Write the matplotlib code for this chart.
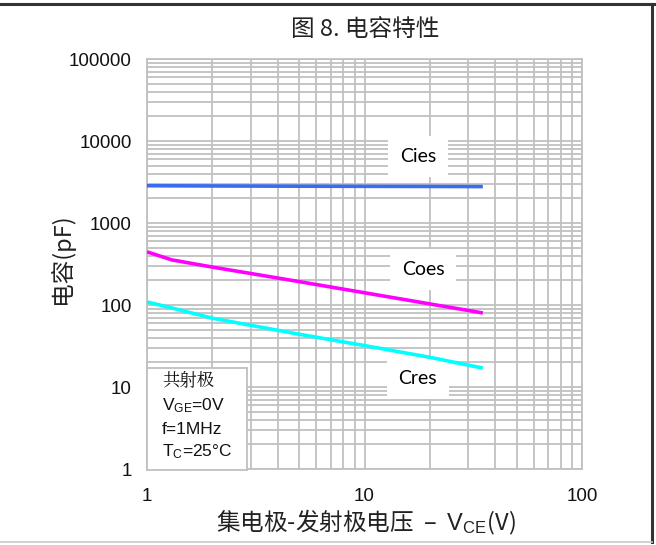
import matplotlib
matplotlib.use("Agg")
import matplotlib.pyplot as plt
from matplotlib.ticker import LogLocator, FixedLocator, FixedFormatter, NullFormatter
from matplotlib.lines import Line2D

plt.rcParams['font.family'] = ['Liberation Sans', 'Noto Sans CJK SC', 'DejaVu Sans']
plt.rcParams['mathtext.fontset'] = 'custom'
plt.rcParams['mathtext.rm'] = 'Liberation Sans'

# Collector-emitter voltage (V) and capacitances (pF)
vce = [1, 1.3, 2, 5, 10, 20, 35]
cies = [2850, 2840, 2830, 2810, 2800, 2790, 2780]
coes = [445, 355, 290, 193, 141, 103, 80]
cres = [109, 92, 69, 44, 32, 23, 17]

x_ticks = [1, 10, 100]
x_tick_labels = ["1", "10", "100"]
y_ticks = [1, 10, 100, 1000, 10000, 100000]
y_tick_labels = ["1", "10", "100", "1000", "10000", "100000"]

W, H = 656, 545
fig = plt.figure(figsize=(W / 100, H / 100), dpi=100)

# page frame
fig.add_artist(Line2D([0, 1], [1 - 4 / H, 1 - 4 / H], color="#333333", lw=2.2))
fig.add_artist(Line2D([1 - 4 / W, 1 - 4 / W], [1 - 4 / H, 3 / H], color="#333333", lw=2.2))
fig.add_artist(Line2D([0, 1 - 4 / W], [3 / H, 3 / H], color="#c8c8c8", lw=1.2))

left, right, top, bottom = 147, 582, 59, 469
ax = fig.add_axes([left / W, 1 - bottom / H, (right - left) / W, (bottom - top) / H])
ax.set_xscale("log")
ax.set_yscale("log")
ax.set_xlim(1, 100)
ax.set_ylim(1, 100000)

grid_c = "#c0c0c0"
ax.xaxis.set_major_locator(FixedLocator(x_ticks))
ax.xaxis.set_major_formatter(FixedFormatter(x_tick_labels))
ax.yaxis.set_major_locator(FixedLocator(y_ticks))
ax.yaxis.set_major_formatter(FixedFormatter(y_tick_labels))
ax.xaxis.set_minor_locator(LogLocator(base=10, subs=range(2, 10), numticks=20))
ax.yaxis.set_minor_locator(LogLocator(base=10, subs=range(2, 10), numticks=20))
ax.xaxis.set_minor_formatter(NullFormatter())
ax.yaxis.set_minor_formatter(NullFormatter())
ax.grid(True, which="both", color=grid_c, lw=1.3)
ax.tick_params(which="both", length=0, labelsize=13.5, labelcolor="#111111")
ax.tick_params(axis="x", pad=14)
ax.tick_params(axis="y", pad=11)
for lbl in ax.get_xticklabels() + ax.get_yticklabels():
    lbl.set_family(["Liberation Sans"])
for s in ax.spines.values():
    s.set_color(grid_c)
    s.set_linewidth(1.3)

ax.plot(vce, cies, color="#3a6cf0", lw=2.6, solid_capstyle="butt", zorder=3)
ax.plot(vce, coes, color="#ff00ff", lw=2.6, solid_capstyle="butt", zorder=3)
ax.plot(vce, cres, color="#00ffff", lw=2.6, solid_capstyle="butt", zorder=3)

lab_kw = dict(fontsize=14, family=["Lato", "DejaVu Sans"], ha="center", va="center", zorder=2.5,
              bbox=dict(facecolor="white", edgecolor="none", boxstyle="square,pad=0.6"))
ax.text(17.6, 6500, "Cies", **lab_kw)
ax.text(18.6, 270, "Coes", **lab_kw)
ax.text(17.6, 12.6, "Cres", **lab_kw)

# conditions box
cond = fig.add_axes([left / W, 1 - 470 / H, (247 - left) / W, (470 - 368) / H])
cond.set_xticks([])
cond.set_yticks([])
cond.set_facecolor("white")
for s in cond.spines.values():
    s.set_color(grid_c)
    s.set_linewidth(1.3)
cx = 15 / (247 - left)
lines = ["共射极", r"$\mathrm{V_{GE}}$=0V", "f=1MHz", r"$\mathrm{T_{C}}$=25°C"]
ys = [380, 406, 429, 452]
for t, yy in zip(lines, ys):
    fam = ["Noto Serif CJK SC", "Noto Sans CJK SC"] if t == "共射极" else ["Liberation Sans"]
    cond.text(cx, (470 - yy) / (470 - 368), t, fontsize=12.5, va="center", ha="left",
              family=fam, color="#111111", transform=cond.transAxes)

cjk = ["Noto Sans CJK SC", "Liberation Sans"]
fig.text(365 / W, 1 - 30 / H, "图 8. 电容特性", fontsize=17, ha="center", va="center",
         family=cjk, fontweight="light", color="#222222")
fig.text(62 / W, 1 - 259 / H, "电容(pF)", fontsize=17, rotation=90, ha="center", va="center",
         family=cjk, fontweight="light", color="#222222")
fig.text(366 / W, 1 - 522 / H, r"集电极-发射极电压  –  $\mathrm{V_{CE}}$(V)", fontsize=17,
         ha="center", va="center", family=cjk, fontweight="light", color="#222222")

fig.savefig("out.png", dpi=100)
